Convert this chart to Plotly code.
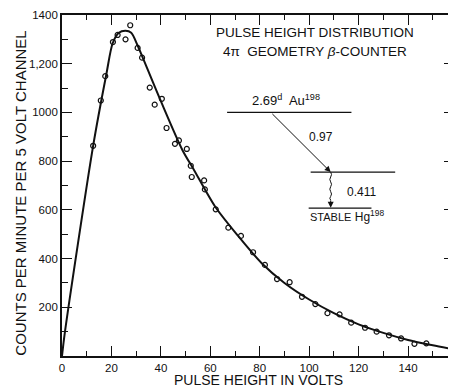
import plotly.graph_objects as go

# measured data points (pulse height in volts, counts per minute per 5 volt channel)
pts_x = [12.6, 15.7, 17.5, 20.6, 22.5, 25.7, 27.6, 30.6, 32.4, 35.5, 37.5, 40.4,
         42.3, 45.7, 47.3, 50.5, 52.1, 52.5, 57.5, 57.8, 62.2, 67.3, 72.4, 77.3,
         82.1, 87.0, 92.1, 97.1, 102.5, 107.4, 112.3, 117.0, 122.6, 127.3, 132.3,
         137.2, 142.6, 147.4]
pts_y = [863, 1049, 1149, 1289, 1318, 1300, 1358, 1265, 1225, 1102, 1032, 1056,
         936, 871, 885, 850, 781, 735, 721, 684, 602, 527, 493, 426,
         374, 316, 303, 243, 213, 176, 171, 137, 116, 100, 85,
         72, 50, 52]

# fitted curve
curve_x = [0, 1.2, 12.6, 18, 20.5, 23, 25.7, 28, 30.5, 32.5, 40, 48.7, 53.4, 62,
           71.5, 80.8, 90, 100, 110, 120, 130, 140, 150, 160]
curve_y = [0, 100, 863, 1160, 1284, 1327, 1335, 1327, 1277, 1229, 1046, 846, 764, 613,
           490, 381, 300, 232, 176, 130, 95, 66, 44, 24]

y_tickvals = [200, 400, 600, 800, 1000, 1200, 1400]
y_ticktext = ["200", "400", "600", "800", "1000", "1,200", "1400"]

FONT = "Liberation Sans"
BLACK = "#111111"

fig = go.Figure()
fig.add_trace(go.Scatter(x=curve_x, y=curve_y, mode="lines",
                         line=dict(color=BLACK, width=2, shape="spline", smoothing=0.8),
                         hoverinfo="skip", showlegend=False))
fig.add_trace(go.Scatter(x=pts_x, y=pts_y, mode="markers",
                         marker=dict(symbol="circle-open", size=5, color=BLACK,
                                     line=dict(width=1.2, color=BLACK)),
                         showlegend=False))

# decay scheme shapes
line_style = dict(color=BLACK, width=1.2)
fig.add_shape(type="line", xref="x", yref="y", x0=66.8, x1=117.1, y0=1000, y1=1000, line=line_style)
fig.add_shape(type="line", xref="x", yref="y", x0=100.6, x1=134.8, y0=755, y1=755, line=line_style)
fig.add_shape(type="line", xref="x", yref="y", x0=99.8, x1=125.2, y0=607, y1=607, line=line_style)

# wavy gamma transition
wx = 108.7
ys = [755, 735, 715, 695, 675, 655, 640]
path = f"M {wx},{ys[0]}"
for i in range(1, len(ys)):
    off = 0.7 if i % 2 else -0.7
    ym = (ys[i - 1] + ys[i]) / 2
    path += f" Q {wx + off},{ym} {wx},{ys[i]}"
fig.add_shape(type="path", xref="x", yref="y", path=path, line=dict(color=BLACK, width=1))

annotations = [
    dict(x=108.7, y=755, ax=84.5, ay=1000, xref="x", yref="y", axref="x", ayref="y",
         showarrow=True, arrowhead=2, arrowsize=1.2, arrowwidth=1, arrowcolor=BLACK, text=""),
    dict(x=108.7, y=609, ax=108.7, ay=645, xref="x", yref="y", axref="x", ayref="y",
         showarrow=True, arrowhead=2, arrowsize=1.2, arrowwidth=1, arrowcolor=BLACK, text=""),
    dict(x=90.7, y=1008, xref="x", yref="y", xanchor="center", yanchor="bottom", showarrow=False,
         text="2.69<sup>d</sup>  Au<sup>198</sup>", font=dict(family=FONT, size=13, color=BLACK)),
    dict(x=104.6, y=899, xref="x", yref="y", xanchor="center", yanchor="middle", showarrow=False,
         text="0.97", font=dict(family=FONT, size=12, color=BLACK)),
    dict(x=121.1, y=673, xref="x", yref="y", xanchor="center", yanchor="middle", showarrow=False,
         text="0.411", font=dict(family=FONT, size=12, color=BLACK)),
    dict(x=99.6, y=574, xref="x", yref="y", xanchor="left", yanchor="middle", showarrow=False,
         text="<span style='font-size:11px'>STABLE</span> Hg<sup>198</sup>",
         font=dict(family=FONT, size=12, color=BLACK)),
    dict(x=0.645, y=0.948, xref="paper", yref="paper", xanchor="center", yanchor="middle",
         showarrow=False, text="PULSE HEIGHT DISTRIBUTION",
         font=dict(family=FONT, size=13.5, color=BLACK)),
    dict(x=0.645, y=0.892, xref="paper", yref="paper", xanchor="center", yanchor="middle",
         showarrow=False, text="4π  GEOMETRY <i>β</i>-COUNTER",
         font=dict(family=FONT, size=13.5, color=BLACK)),
    dict(x=-0.108, y=0.478, xref="paper", yref="paper", xanchor="center", yanchor="middle",
         showarrow=False, textangle=-90, text="COUNTS PER MINUTE PER 5 VOLT CHANNEL",
         font=dict(family=FONT, size=15, color=BLACK)),
    dict(x=0.5, y=-0.071, xref="paper", yref="paper", xanchor="center", yanchor="middle",
         showarrow=False, text="PULSE HEIGHT IN VOLTS",
         font=dict(family=FONT, size=14, color=BLACK)),
    dict(x=1.0102, y=-0.026, xref="paper", yref="paper", xanchor="center", yanchor="middle",
         showarrow=False, text="160", font=dict(family=FONT, size=11.5, color=BLACK)),
]

# the page adds an 8px body margin, so the figure is 8px smaller each way
fig.update_layout(
    width=448, height=379,
    margin=dict(l=54, r=0, t=7, b=31),
    paper_bgcolor="white", plot_bgcolor="white",
    font=dict(family=FONT, size=11.5, color=BLACK),
    annotations=annotations,
    showlegend=False,
    xaxis=dict(range=[0, 158.6], tickmode="linear", tick0=0, dtick=20,
               ticks="inside", ticklen=10, tickwidth=1.2, tickcolor=BLACK,
               showline=True, linecolor=BLACK, linewidth=1.5, mirror="ticks",
               showgrid=False, zeroline=False,
               minor=dict(tickmode="linear", tick0=0, dtick=10, ticks="inside",
                          ticklen=5, tickwidth=1.2, tickcolor=BLACK, showgrid=False),
               tickfont=dict(family=FONT, size=11.5, color=BLACK)),
    yaxis=dict(range=[0, 1400], tickmode="array", tickvals=y_tickvals, ticktext=y_ticktext,
               ticks="inside", ticklen=10, tickwidth=1.2, tickcolor=BLACK,
               showline=True, linecolor=BLACK, linewidth=1.8, mirror="ticks",
               showgrid=False, zeroline=False,
               minor=dict(tickmode="linear", tick0=0, dtick=100, ticks="inside",
                          ticklen=6, tickwidth=1.2, tickcolor=BLACK, showgrid=False),
               tickfont=dict(family=FONT, size=11.5, color=BLACK)),
)

fig.write_html("out.html")
